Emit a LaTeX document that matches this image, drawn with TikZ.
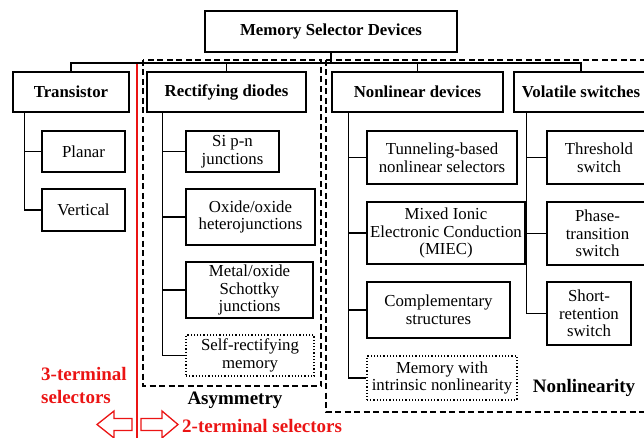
\documentclass[tikz,border=0pt]{standalone}
\usepackage{fontspec}
\setmainfont{Liberation Serif}
\newcommand{\fsn}{\fontsize{16.8}{17.6}\selectfont}
\newcommand{\fsl}{\fontsize{19}{23}\selectfont\bfseries}
\definecolor{myred}{RGB}{235,20,20}
\begin{document}
\begin{tikzpicture}[x=1pt,y=-1pt,
  box/.style={draw, line width=1.2pt, inner sep=0pt, align=center, font=\fsn, fill=white},
  dotbox/.style={box, dotted, line width=1.1pt},
  conn/.style={line width=1.3pt},
  grp/.style={dash pattern=on 6pt off 3.5pt, line width=1.3pt},
  lbl/.style={font=\fsl, inner sep=0pt},
  redlbl/.style={font=\fsl, text=myred, inner sep=0pt, align=left},
  redarrow/.style={draw=myred, line width=1.3pt, fill=white}]
\clip (0,0) rectangle (644,438);
% group boxes
\draw[grp] (143,60) rectangle (321,386);
\draw[grp] (326,60) rectangle (680,412);
% red divider
\draw[myred, line width=1.3pt] (137,63) -- (137,440);
% top-level nodes
\node[box, minimum width=252pt, minimum height=41pt, font=\fsn\bfseries] (top) at (331,31.5) {Memory Selector Devices};
\node[box, minimum width=116pt, minimum height=40pt, font=\fsn\bfseries] (trans) at (71,92) {Transistor};
\node[box, minimum width=159pt, minimum height=40pt, font=\fsn\bfseries] (rect) at (226.5,92) {Rectifying diodes};
\node[box, minimum width=171pt, minimum height=40pt, font=\fsn\bfseries] (nonlin) at (417.5,92) {Nonlinear devices};
\node[box, minimum width=134pt, minimum height=40pt, font=\fsn\bfseries] (volat) at (581,92) {Volatile switches};
% children
\node[box, minimum width=83pt, minimum height=41pt] (planar) at (83.5,151.5) {Planar};
\node[box, minimum width=83pt, minimum height=42pt] (vertical) at (83.5,210) {Vertical};
\node[box, minimum width=93pt, minimum height=41pt] (sipn) at (232.5,151.5) {Si p-n\\junctions};
\node[box, minimum width=129pt, minimum height=56pt] (oxox) at (250.5,217) {Oxide/oxide\\heterojunctions};
\node[box, minimum width=127pt, minimum height=56pt] (metox) at (249.5,290) {Metal/oxide\\Schottky\\junctions};
\node[dotbox, minimum width=128pt, minimum height=41pt] (selfrect) at (250,355.5) {Self-rectifying\\memory};
\node[box, minimum width=150pt, minimum height=53pt] (tunnel) at (442,157.5) {Tunneling-based\\nonlinear selectors};
\node[box, minimum width=158pt, minimum height=62pt] (miec) at (446,233) {Mixed Ionic\\Electronic Conduction\\(MIEC)};
\node[box, minimum width=143pt, minimum height=56pt] (compl) at (438.5,310) {Complementary\\structures};
\node[dotbox, minimum width=150pt, minimum height=44pt] (memint) at (442,378) {Memory with\\intrinsic nonlinearity};
\node[box, minimum width=104pt, minimum height=53pt] (thresh) at (599,157.5) {Threshold\\switch};
\node[box, minimum width=101pt, minimum height=63pt] (phase) at (597.5,233.5) {Phase-\\transition\\switch};
\node[box, minimum width=84pt, minimum height=63pt] (short) at (589,313.5) {Short-\\retention\\switch};
% top connectors
\coordinate (hb) at (331,63);
\draw[conn] (top.south) -- (hb);
\draw[conn] (trans.north) |- (hb);
\draw[conn] (rect.north) |- (hb);
\draw[conn] (nonlin.north) |- (hb);
\draw[conn] (volat.north) |- (hb);
% child connectors
\draw[conn] ([xshift=12pt]trans.south west) |- (planar.west);
\draw[conn] ([xshift=12pt]trans.south west) |- (vertical.west);
\draw[conn] ([xshift=16pt]rect.south west) |- (sipn.west);
\draw[conn] ([xshift=16pt]rect.south west) |- (oxox.west);
\draw[conn] ([xshift=16pt]rect.south west) |- (metox.west);
\draw[conn] ([xshift=16pt]rect.south west) |- (selfrect.west);
\draw[conn] ([xshift=17pt]nonlin.south west) |- (tunnel.west);
\draw[conn] ([xshift=17pt]nonlin.south west) |- (miec.west);
\draw[conn] ([xshift=17pt]nonlin.south west) |- (compl.west);
\draw[conn] ([xshift=17pt]nonlin.south west) |- (memint.west);
\draw[conn] ([xshift=13pt]volat.south west) |- (thresh.west);
\draw[conn] ([xshift=13pt]volat.south west) |- (phase.west);
\draw[conn] ([xshift=13pt]volat.south west) |- (short.west);
% group labels
\node[lbl] (asym) at (235,400) {Asymmetry};
\node[lbl] (nonlinty) at (584,388) {Nonlinearity};
% red labels and arrows
\node[redlbl, anchor=base west] (three) at (41,403) {3-terminal\\selectors};
\draw[redarrow] (132,418.5) -- (114,418.5) -- (114,411) -- (97,424.5) -- (114,438) -- (114,430.5) -- (132,430.5) -- cycle;
\draw[redarrow] (141,418.5) -- (162,418.5) -- (162,411) -- (178,424.5) -- (162,438) -- (162,430.5) -- (141,430.5) -- cycle;
\node[redlbl, anchor=base west] (two) at (182,432) {2-terminal selectors};
\end{tikzpicture}
\end{document}
